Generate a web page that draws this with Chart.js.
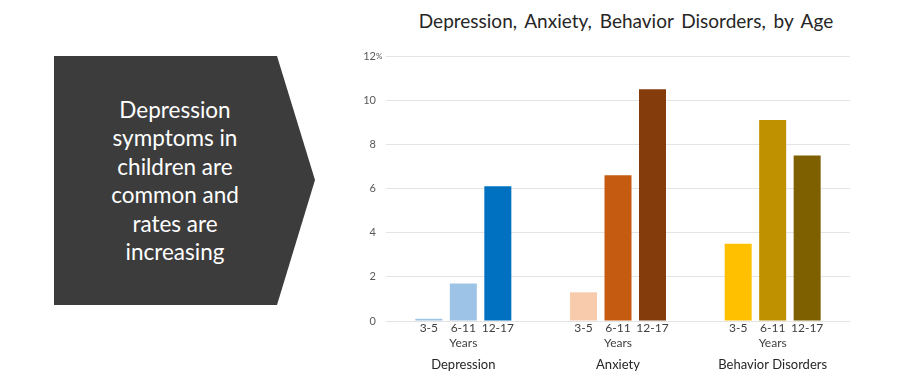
<!DOCTYPE html>
<html>
<head>
<meta charset="utf-8">
<script src="https://cdn.jsdelivr.net/npm/chart.js@4"></script>
<style>
  html, body { margin: 0; padding: 0; background: #fff; }
  body { width: 900px; height: 386px; position: relative; overflow: hidden; font-family: Lato, "Open Sans", sans-serif; }
  #arrow {
    position: absolute; left: 54px; top: 56px; width: 261px; height: 249px;
    background: #3c3c3c;
    clip-path: polygon(0 0, 223px 0, 261px 124px, 223px 249px, 0 249px);
  }
  #arrowText {
    position: absolute; left: 54px; top: 96px; width: 242px;
    color: #fff; font-size: 22.5px; line-height: 28.4px; text-align: center;
  }
  #title {
    position: absolute; left: 380px; width: 492px; top: 9px;
    text-align: center; font-size: 19px; color: #262626; word-spacing: 3px;
  }
  #wrap { position: absolute; left: 340px; top: 0; width: 560px; height: 386px; }
</style>
</head>
<body>
<div id="arrow"></div>
<div id="arrowText">Depression<br>symptoms in<br>children are<br>common and<br>rates are<br>increasing</div>
<div id="title">Depression, Anxiety, Behavior Disorders, by Age</div>
<div id="wrap"><canvas id="grafico"></canvas></div>
<script>
const categories = ["Depression", "Anxiety", "Behavior Disorders"];
const ageGroups = ["3-5", "6-11", "12-17"];
const age3to5 = [0.1, 1.3, 3.5];
const age6to11 = [1.7, 6.6, 9.1];
const age12to17 = [6.1, 10.5, 7.5];
const yTicks = [0, 2, 4, 6, 8, 10, 12];

document.addEventListener("DOMContentLoaded", () => {
    Chart.defaults.font.family = "Lato, 'Open Sans', sans-serif";

    // etiquetas de edad bajo cada barra y "Years" bajo cada grupo
    const ageLabels = {
        id: "ageLabels",
        afterDraw(chart) {
            const ctx = chart.ctx;
            const bottom = chart.chartArea.bottom;
            ctx.save();
            ctx.fillStyle = "#404040";
            ctx.textAlign = "center";
            ctx.textBaseline = "middle";
            ctx.font = "12px Lato, 'Open Sans', sans-serif";
            chart.data.datasets.forEach((ds, i) => {
                chart.getDatasetMeta(i).data.forEach(bar => {
                    ctx.fillText(ageGroups[i], bar.x, bottom + 7);
                });
            });
            const xs = chart.scales.x;
            categories.forEach((c, j) => {
                ctx.fillText("Years", xs.getPixelForValue(j), bottom + 22);
            });
            // el "%" pequeño junto al 12
            const ys = chart.scales.y;
            ctx.textAlign = "left";
            ctx.font = "8px Lato, 'Open Sans', sans-serif";
            ctx.fillStyle = "#595959";
            ctx.fillText("%", chart.chartArea.left - 10, ys.getPixelForValue(yTicks[yTicks.length - 1]));
            ctx.restore();
        }
    };

    const canvas = document.getElementById("grafico");
    new Chart(canvas.getContext("2d"), {
        type: "bar",
        data: {
            labels: categories,
            datasets: [
                { label: ageGroups[0], data: age3to5, backgroundColor: ["#9dc3e6", "#f8cbad", "#ffc000"] },
                { label: ageGroups[1], data: age6to11, backgroundColor: ["#9dc3e6", "#c55a11", "#bf9000"] },
                { label: ageGroups[2], data: age12to17, backgroundColor: ["#0070c0", "#843c0c", "#7f6000"] }
            ]
        },
        options: {
            responsive: true,
            maintainAspectRatio: false,
            animation: false,
            categoryPercentage: 0.669,
            barPercentage: 0.783,
            layout: { padding: { top: 56, right: 50, left: 0, bottom: 0 } },
            plugins: { legend: { display: false }, tooltip: { enabled: false } },
            scales: {
                x: {
                    grid: { display: false },
                    border: { display: false },
                    ticks: { color: "#262626", font: { size: 13 }, padding: 28 },
                    afterFit: s => { s.height = 65; }
                },
                y: {
                    min: 0,
                    max: 12,
                    afterBuildTicks: s => { s.ticks = yTicks.map(v => ({ value: v })); },
                    grid: { color: "#e4e4e4", drawTicks: false },
                    border: { display: false },
                    ticks: { color: "#595959", font: { size: 11 }, padding: 10 },
                    afterFit: s => { s.width = 46; }
                }
            }
        },
        plugins: [ageLabels]
    });
});
</script>
</body>
</html>
